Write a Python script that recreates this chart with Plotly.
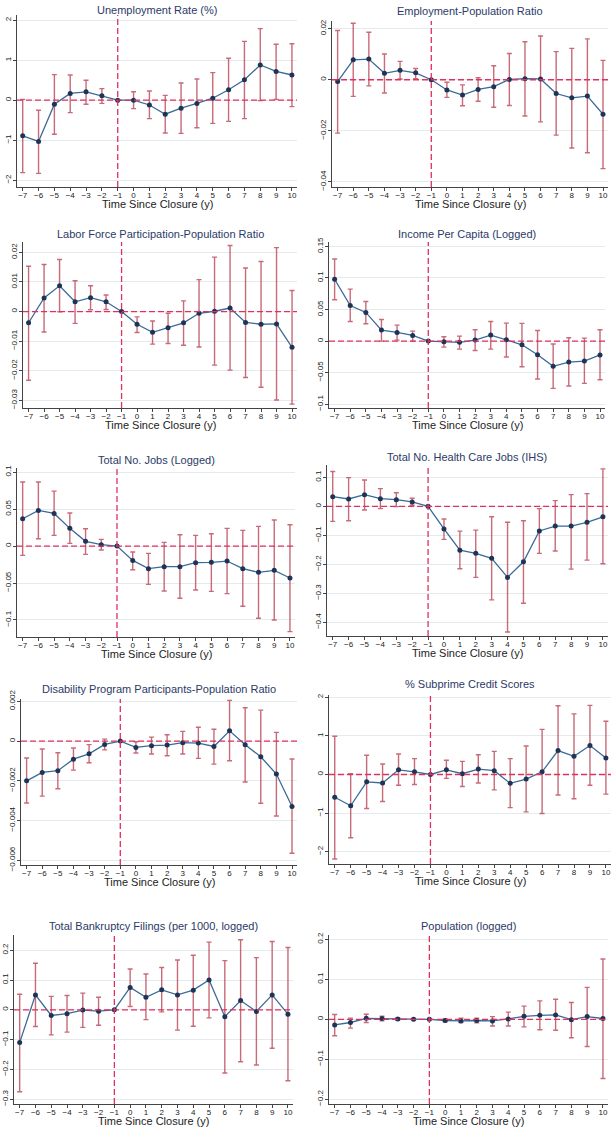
import plotly.graph_objects as go
from plotly.subplots import make_subplots

years = [-7, -6, -5, -4, -3, -2, -1, 0, 1, 2, 3, 4, 5, 6, 7, 8, 9, 10]
year_labels = ["−7", "−6", "−5", "−4", "−3", "−2", "−1", "0", "1", "2", "3", "4", "5", "6", "7", "8", "9", "10"]

titles = [
    "Unemployment Rate (%)",
    "Employment-Population Ratio",
    "Labor Force Participation-Population Ratio",
    "Income Per Capita (Logged)",
    "Total No. Jobs (Logged)",
    "Total No. Health Care Jobs (IHS)",
    "Disability Program Participants-Population Ratio",
    "% Subprime Credit Scores",
    "Total Bankruptcy Filings (per 1000, logged)",
    "Population (logged)",
]
x_title = "Time Since Closure (y)"

unemp_est = [-0.89, -1.03, -0.10, 0.17, 0.21, 0.11, 0.0, 0.0, -0.12, -0.35, -0.20, -0.08, 0.05, 0.26, 0.51, 0.88, 0.72, 0.63]
unemp_hi = [0.02, -0.25, 0.64, 0.63, 0.50, 0.29, None, 0.21, 0.23, 0.12, 0.43, 0.53, 0.69, 1.05, 1.47, 1.79, 1.40, 1.41]
unemp_lo = [-1.81, -1.83, -0.85, -0.31, -0.10, -0.08, None, -0.21, -0.46, -0.82, -0.83, -0.69, -0.58, -0.53, -0.46, -0.01, 0.02, -0.16]

emp_est = [-0.0007, 0.0078, 0.0081, 0.0025, 0.0037, 0.0027, 0.0, -0.0040, -0.0060, -0.0038, -0.0027, 0.0001, 0.0004, 0.0003, -0.0054, -0.0071, -0.0064, -0.0135]
emp_hi = [0.0193, 0.0221, 0.0186, 0.0101, 0.0072, 0.0044, None, -0.0010, -0.0020, 0.0008, 0.0055, 0.0103, 0.0149, 0.0171, 0.0110, 0.0123, 0.0160, 0.0076]
emp_lo = [-0.0209, -0.0065, -0.0024, -0.0052, 0.0003, 0.0004, None, -0.0069, -0.0102, -0.0084, -0.0108, -0.0101, -0.0142, -0.0165, -0.0217, -0.0267, -0.0286, -0.0348]

lfp_est = [-0.0038, 0.0046, 0.0087, 0.0033, 0.0047, 0.0033, 0.0, -0.0043, -0.0070, -0.0055, -0.0038, -0.0006, 0.0001, 0.0012, -0.0037, -0.0043, -0.0042, -0.0121]
lfp_hi = [0.0153, 0.0159, 0.0176, 0.0104, 0.0087, 0.0056, None, -0.0018, -0.0032, -0.0006, 0.0036, 0.0108, 0.0184, 0.0223, 0.0147, 0.0169, 0.0216, 0.0071]
lfp_lo = [-0.0232, -0.0069, -0.0001, -0.0040, 0.0006, 0.0007, None, -0.0071, -0.0110, -0.0108, -0.0114, -0.0120, -0.0181, -0.0198, -0.0223, -0.0256, -0.0299, -0.0313]

inc_est = [0.098, 0.0564, 0.0454, 0.0174, 0.0137, 0.009, 0.0, -0.001, -0.002, 0.0016, 0.0095, 0.002, -0.0058, -0.0216, -0.040, -0.0332, -0.0316, -0.022]
inc_hi = [0.130, 0.0823, 0.0628, 0.0343, 0.0253, 0.0158, None, 0.0069, 0.0079, 0.0179, 0.0311, 0.0285, 0.028, 0.0169, -0.0047, 0.0053, 0.0047, 0.0179]
inc_lo = [0.0654, 0.0311, 0.0274, 0.0, 0.0016, 0.0, None, -0.0095, -0.0127, -0.0148, -0.0127, -0.0253, -0.0406, -0.0601, -0.0749, -0.0712, -0.067, -0.0612]

jobs_est = [0.0369, 0.0482, 0.0441, 0.0239, 0.0063, 0.0018, 0.0, -0.0194, -0.0306, -0.0279, -0.0279, -0.0225, -0.0221, -0.0203, -0.0306, -0.0356, -0.0329, -0.0432]
jobs_hi = [0.0865, 0.0865, 0.0743, 0.0446, 0.0234, 0.009, None, -0.0081, -0.0099, 0.005, 0.0153, 0.0144, 0.0167, 0.0239, 0.0212, 0.0266, 0.0351, 0.0288]
jobs_lo = [-0.0126, 0.0099, 0.0144, 0.0036, -0.0113, -0.0054, None, -0.032, -0.0518, -0.0608, -0.0707, -0.0595, -0.0613, -0.0644, -0.0815, -0.0977, -0.100, -0.1158]

hc_est = [0.0334, 0.0253, 0.0403, 0.0265, 0.023, 0.015, 0.0, -0.078, -0.151, -0.162, -0.179, -0.245, -0.191, -0.085, -0.068, -0.068, -0.055, -0.036]
hc_hi = [0.120, 0.099, 0.091, 0.061, 0.047, 0.0277, None, -0.0438, -0.0853, -0.082, -0.0357, -0.055, -0.0495, -0.008, 0.0196, 0.0403, 0.0438, 0.129]
hc_lo = [-0.052, -0.0495, -0.0127, -0.008, -0.001, 0.0035, None, -0.114, -0.2154, -0.245, -0.3226, -0.433, -0.334, -0.162, -0.154, -0.2166, -0.1855, -0.198]

dis_est = [-0.0020, -0.00158, -0.00149, -0.00091, -0.00064, -0.00017, 0.0, -0.00032, -0.00023, -0.00020, -0.00008, -0.00010, -0.00027, 0.00052, -0.00018, -0.00079, -0.00166, -0.00329]
dis_hi = [-0.00085, -0.00040, -0.00059, -0.00035, -0.00018, 0.00010, None, -0.00003, 0.00020, 0.00032, 0.00049, 0.00070, 0.00060, 0.00205, 0.00168, 0.00156, 0.00044, -0.00090]
dis_lo = [-0.00312, -0.00277, -0.00240, -0.00146, -0.00109, -0.00044, None, -0.00060, -0.00065, -0.00074, -0.00065, -0.00087, -0.00116, -0.00099, -0.00206, -0.00313, -0.00377, -0.00565]

sub_est = [-0.59, -0.81, -0.19, -0.22, 0.12, 0.07, 0.0, 0.12, 0.02, 0.14, 0.10, -0.23, -0.12, 0.07, 0.62, 0.47, 0.75, 0.43]
sub_hi = [0.99, 0.02, 0.50, 0.27, 0.53, 0.41, None, 0.37, 0.34, 0.51, 0.60, 0.41, 0.74, 1.17, 1.78, 1.57, 1.79, 1.38]
sub_lo = [-2.19, -1.64, -0.88, -0.70, -0.28, -0.26, None, -0.10, -0.31, -0.22, -0.40, -0.86, -0.97, -1.01, -0.53, -0.63, -0.28, -0.51]

bk_est = [-0.110, 0.050, -0.019, -0.013, -0.001, -0.0045, 0.0, 0.075, 0.042, 0.067, 0.050, 0.066, 0.100, -0.023, 0.031, -0.0056, 0.050, -0.0145]
bk_hi = [0.052, 0.156, 0.045, 0.048, 0.056, 0.042, None, 0.137, 0.120, 0.142, 0.167, 0.183, 0.227, 0.165, 0.235, 0.175, 0.229, 0.209]
bk_lo = [-0.275, -0.056, -0.084, -0.075, -0.059, -0.052, None, 0.011, -0.033, -0.007, -0.068, -0.055, -0.027, -0.212, -0.174, -0.185, -0.129, -0.238]

pop_est = [-0.014, -0.008, 0.0025, 0.0017, 0.001, 0.0, 0.0, -0.003, -0.004, -0.003, -0.004, 0.001, 0.0075, 0.010, 0.011, -0.001, 0.0067, 0.002]
pop_hi = [0.012, 0.003, 0.0125, 0.0075, 0.004, 0.002, None, 0.001, 0.0025, 0.003, 0.0067, 0.018, 0.033, 0.046, 0.050, 0.042, 0.080, 0.151]
pop_lo = [-0.041, -0.022, -0.008, -0.004, -0.0025, -0.0017, None, -0.006, -0.008, -0.009, -0.0167, -0.0167, -0.019, -0.026, -0.0275, -0.046, -0.068, -0.148]

ytick_vals = [
    [-2, -1, 0, 1, 2],
    [-0.04, -0.02, 0, 0.02],
    [-0.03, -0.02, -0.01, 0, 0.01, 0.02],
    [-0.1, -0.05, 0, 0.05, 0.1, 0.15],
    [-0.1, -0.05, 0, 0.05, 0.1],
    [-0.4, -0.3, -0.2, -0.1, 0, 0.1],
    [-0.006, -0.004, -0.002, 0, 0.002],
    [-2, -1, 0, 1, 2],
    [-0.3, -0.2, -0.1, 0, 0.1, 0.2],
    [-0.2, -0.1, 0, 0.1, 0.2],
]
ytick_text = [
    ["−2", "−1", "0", "1", "2"],
    ["−0.04", "−0.02", "0", "0.02"],
    ["−0.03", "−0.02", "−0.01", "0", "0.01", "0.02"],
    ["−0.1", "−0.05", "0", "0.05", "0.1", "0.15"],
    ["−0.1", "−0.05", "0", "0.05", "0.1"],
    ["−0.4", "−0.3", "−0.2", "−0.1", "0", "0.1"],
    ["−0.006", "−0.004", "−0.002", "0", "0.002"],
    ["−2", "−1", "0", "1", "2"],
    ["−0.3", "−0.2", "−0.1", "0", "0.1", "0.2"],
    ["−0.2", "−0.1", "0", "0.1", "0.2"],
]

series = [
    (unemp_est, unemp_lo, unemp_hi),
    (emp_est, emp_lo, emp_hi),
    (lfp_est, lfp_lo, lfp_hi),
    (inc_est, inc_lo, inc_hi),
    (jobs_est, jobs_lo, jobs_hi),
    (hc_est, hc_lo, hc_hi),
    (dis_est, dis_lo, dis_hi),
    (sub_est, sub_lo, sub_hi),
    (bk_est, bk_lo, bk_hi),
    (pop_est, pop_lo, pop_hi),
]

# layout: plot-area pixel boxes (left, right, top, bottom) and y ranges
W, H = 612, 1129
boxes = [
    (17, 297, 15, 187), (332, 608, 21, 187),
    (23, 297, 242, 408), (329, 605, 242, 408),
    (17, 295, 468, 637), (327, 608, 465, 636),
    (21, 297, 699, 865), (329, 611, 695, 864),
    (14, 293, 935, 1104), (329, 608, 935, 1104),
]
title_y = [10, 11, 234, 234, 460, 457, 689, 684, 926, 926]
y_ranges = [
    [-2.17, 2.13], [-0.042, 0.023], [-0.0326, 0.0235], [-0.106, 0.157], [-0.123, 0.1055],
    [-0.447, 0.1425], [-0.00624, 0.00212], [-2.32, 2.06], [-0.316, 0.251], [-0.212, 0.211],
]
x_range = [-7.36, 10.32]

FONT = "Liberation Sans, Arial, Helvetica, sans-serif"
TITLE_COLOR = "#2b3a67"
LINE_COLOR = "#3a6a96"
MARKER_COLOR = "#1c3557"
ERR_COLOR = "rgba(178, 50, 68, 0.72)"
REF_COLOR = "#e0305f"
GRID_COLOR = "#e4ebee"
AXIS_COLOR = "#444444"

fig = make_subplots(rows=5, cols=2)

annotations = []
shapes = []
for i, (est, lo, hi) in enumerate(series):
    n = i + 1
    row, col = i // 2 + 1, i % 2 + 1
    plus = [None if h is None else h - e for e, h in zip(est, hi)]
    minus = [None if l is None else e - l for e, l in zip(est, lo)]
    fig.add_trace(go.Scatter(
        x=years, y=est, mode="markers",
        marker=dict(size=1, opacity=0),
        error_y=dict(type="data", array=plus, arrayminus=minus, symmetric=False,
                     color=ERR_COLOR, thickness=1.4, width=2.5),
        showlegend=False, hoverinfo="skip"), row=row, col=col)
    fig.add_trace(go.Scatter(
        x=years, y=est, mode="lines+markers",
        line=dict(color=LINE_COLOR, width=1.3),
        marker=dict(color=MARKER_COLOR, size=5, symbol="circle"),
        showlegend=False), row=row, col=col)

    l, r, t, b = boxes[i]
    xs = "" if n == 1 else str(n)
    fig.update_layout({
        f"xaxis{xs}": dict(
            domain=[l / W, r / W], range=x_range, automargin=False,
            tickmode="array", tickvals=years, ticktext=year_labels,
            tickfont=dict(size=8, color="#222"), ticks="outside", ticklen=3,
            ticklabelstandoff=-3,
            tickcolor=AXIS_COLOR, showline=True, linecolor=AXIS_COLOR, linewidth=1,
            showgrid=False, zeroline=False),
        f"yaxis{xs}": dict(
            domain=[1 - b / H, 1 - t / H], range=y_ranges[i], automargin=False,
            tickmode="array", tickvals=ytick_vals[i], ticktext=ytick_text[i],
            tickangle=-90, tickfont=dict(size=8, color="#222"),
            ticks="outside", ticklen=3, tickcolor=AXIS_COLOR, ticklabelstandoff=-1,
            showline=True, linecolor=AXIS_COLOR, linewidth=1,
            showgrid=True, gridcolor=GRID_COLOR, gridwidth=1, zeroline=False),
    })
    xref = f"x{xs}"
    yref = f"y{xs}"
    shapes.append(dict(type="line", xref=f"{xref} domain", yref=yref,
                       x0=0, x1=1, y0=0, y1=0,
                       line=dict(color=REF_COLOR, width=1.3, dash="6px,3px")))
    shapes.append(dict(type="line", xref=xref, yref=f"{yref} domain",
                       x0=-1, x1=-1, y0=0, y1=1,
                       line=dict(color=REF_COLOR, width=1.3, dash="6px,3px")))
    annotations.append(dict(text=titles[i], xref="paper", yref="paper",
                            x=(l + r) / 2 / W, y=1 - title_y[i] / H,
                            xanchor="center", yanchor="middle", showarrow=False,
                            font=dict(size=11, color=TITLE_COLOR, family=FONT)))
    annotations.append(dict(text=x_title, xref="paper", yref="paper",
                            x=(l + r) / 2 / W, y=1 - (b + 17) / H,
                            xanchor="center", yanchor="middle", showarrow=False,
                            font=dict(size=11, color="#222", family=FONT)))

fig.update_layout(
    width=W, height=H,
    margin=dict(l=0, r=0, t=0, b=0, pad=0, autoexpand=False),
    paper_bgcolor="white", plot_bgcolor="white",
    font=dict(family=FONT),
    annotations=annotations, shapes=shapes,
)

fig.write_html("out.html", config={"displayModeBar": False},
               post_script="document.body.style.margin='0px';")
